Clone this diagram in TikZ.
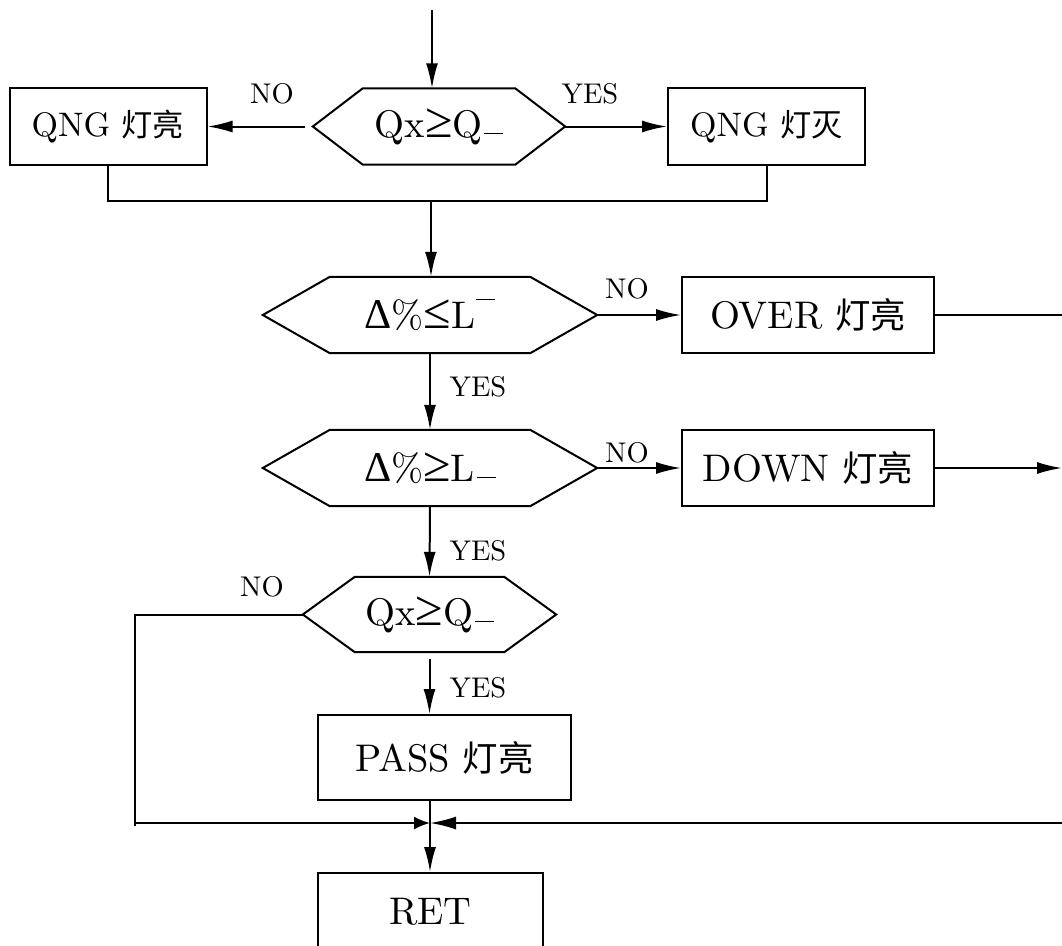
\documentclass[tikz,border=0pt]{standalone}
\usepackage{fontspec}
\setmainfont{lmroman10-regular.otf}
\newfontfamily\cjk[Scale=0.92]{Noto Sans CJK SC}
\newfontfamily\sym{Liberation Serif}
\usetikzlibrary{arrows.meta,calc}
\newcommand\hexdraw[2]{\draw[lw] (#1.west) -- ([xshift=#2]#1.north west) -- ([xshift=-#2]#1.north east) -- (#1.east) -- ([xshift=-#2]#1.south east) -- ([xshift=#2]#1.south west) -- cycle;}
\newcommand\lowdash{\hspace{0.04em}\rule[0.08em]{0.5em}{0.035em}}
\newcommand\highdash{\hspace{0.02em}\rule[0.74em]{0.5em}{0.035em}}
\newcommand\symge{{\sym\scalebox{1.3}{≥}}}
\newcommand\symle{{\sym\scalebox{1.3}{≤}}}
\newcommand\Dl{{\sym\scalebox{1.1}{Δ}}}
\tikzset{
  lw/.style={line width=2pt},
  arr/.style={line width=2pt,-{Latex[length=25pt,width=12pt]}},
  box/.style={draw,line width=2pt,minimum height=77pt,inner sep=0pt},
  hexn/.style={inner sep=0pt,minimum height=76pt},
  lab/.style={font=\fontsize{28.5}{30}\selectfont,inner sep=0pt},
  big/.style={font=\fontsize{38.5}{40}\selectfont},
  mid/.style={font=\fontsize{34}{36}\selectfont},
}
\begin{document}
\begin{tikzpicture}[x=1pt,y=-1pt]
\useasboundingbox (0,0) rectangle (1062,945);
% nodes
\node[hexn,big,minimum width=252pt] (h1) at (439,126.5) {Qx\symge Q\lowdash};
\node[box,mid,minimum width=197pt] (b1) at (108,126.5) {QNG {\cjk 灯亮}};
\node[box,mid,minimum width=197pt] (b2) at (766.5,126.5) {QNG {\cjk 灯灭}};
\node[hexn,big,minimum width=334pt] (h2) at (430,315) {\Dl\%\symle L\highdash};
\node[box,big,minimum width=252pt,minimum height=76pt] (b3) at (808,315) {OVER {\cjk 灯亮}};
\node[hexn,big,minimum width=334pt] (h3) at (430,468) {\Dl\%\symge L\lowdash};
\node[box,big,minimum width=252pt,minimum height=76pt] (b4) at (808,468) {DOWN {\cjk 灯亮}};
\node[hexn,big,minimum width=253pt,minimum height=75pt] (h4) at (429.5,614.5) {Qx\symge Q\lowdash};
\node[box,big,minimum width=253pt,minimum height=85pt] (b5) at (444.5,757.5) {PASS {\cjk 灯亮}};
\node[box,big,minimum width=225pt,minimum height=78pt] (b6) at (430.5,912) {RET};
\hexdraw{h1}{50pt}
\hexdraw{h2}{67pt}
\hexdraw{h3}{67pt}
\hexdraw{h4}{52pt}
% labels
\node[lab] (l1) at (272,94) {NO};
\node[lab] (l2) at (590,94) {YES};
\node[lab] (l3) at (627,289) {NO};
\node[lab] (l4) at (478,387) {YES};
\node[lab] (l5) at (627,453) {NO};
\node[lab] (l6) at (478,551) {YES};
\node[lab] (l7) at (262,587) {NO};
\node[lab] (l8) at (478,688) {YES};
% coordinates
\coordinate (top) at (432,10);
\coordinate (m1) at (431,201);
\coordinate (e1) at (1062,315);
\coordinate (e2) at (1062,468);
\coordinate (c1) at (135,614.5);
\coordinate (c2) at (135,826);
\coordinate (c3) at (135,823);
\coordinate (j) at (430,823);
\coordinate (e3) at (1062,823);
% connectors
\draw[arr] (top) -- (top |- h1.north);
\draw[arr,shorten <=8pt] (h1.west) -- (b1.east);
\draw[arr] (h1.east) -- (b2.west);
\draw[lw] (b1.south) |- (m1) -| (b2.south);
\draw[arr] (m1) -- (m1 |- h2.north);
\draw[arr] (h2.east) -- (b3.west);
\draw[lw] (b3.east) -- (e1);
\draw[arr] (h2.south) -- (h3.north);
\draw[arr] (h3.east) -- (b4.west);
\draw[arr] (b4.east) -- (e2);
\draw[arr] (h3.south) -- (h4.north);
\draw[lw] (h4.west) -- (c1) -- (c2);
\draw[arr,shorten <=7pt] (h4.south) -- (h4.south |- b5.north);
\draw[lw] (j |- b5.south) -- (j);
\draw[line width=2pt,-{Latex[length=16pt,width=13pt]}] (c3) -- (j);
\draw[line width=2pt,-{Latex[length=26pt,width=13pt]}] (e3) -- (j);
\draw[arr] (j) -- (j |- b6.north);
\end{tikzpicture}
\end{document}
